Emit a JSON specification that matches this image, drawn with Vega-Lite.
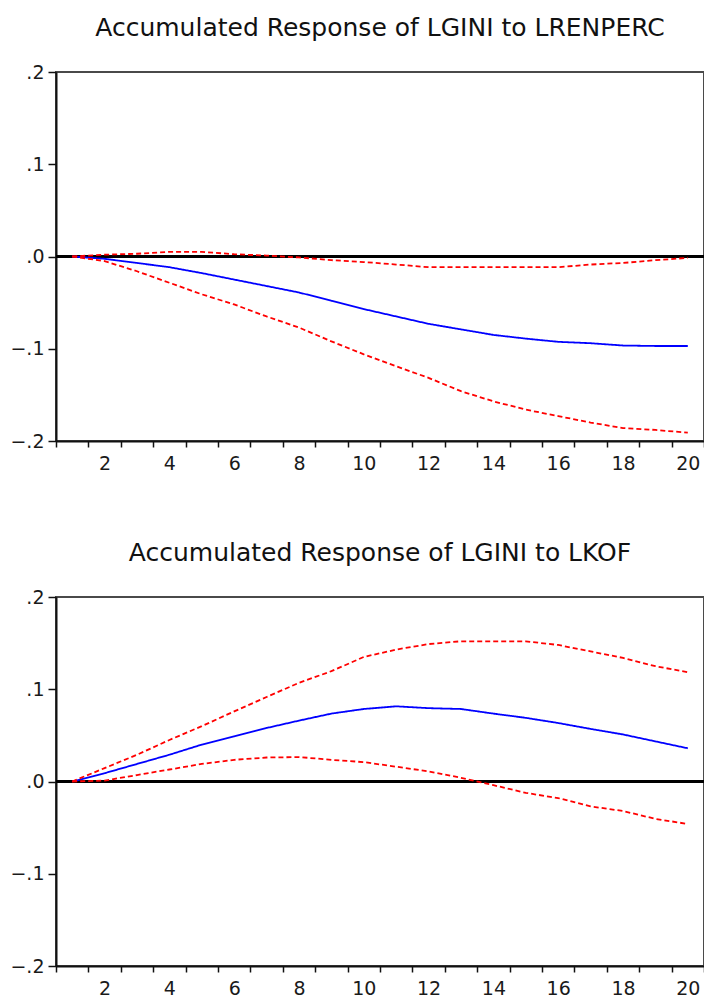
{
  "$schema": "https://vega.github.io/schema/vega-lite/v6.json",
  "background": "white",
  "padding": {"left": 8, "top": 15, "right": 0, "bottom": 0},
  "config": {
    "font": "DejaVu Sans",
    "view": {"stroke": "#4a4a4a", "strokeWidth": 2},
    "axis": {"grid": false, "domainColor": "#111111", "domainWidth": 2, "tickColor": "#111111", "tickWidth": 1.5, "labelFont": "DejaVu Sans", "labelFontSize": 18, "labelColor": "#1a1a1a"},
    "title": {"font": "DejaVu Sans", "fontSize": 25, "fontWeight": "normal", "color": "#111111", "offset": 22},
    "concat": {"spacing": 66}
  },
  "datasets": {
    "top": [
      {"period": 1, "series": "resp", "value": 0},
      {"period": 2, "series": "resp", "value": -0.0025},
      {"period": 3, "series": "resp", "value": -0.007},
      {"period": 4, "series": "resp", "value": -0.0116},
      {"period": 5, "series": "resp", "value": -0.018},
      {"period": 6, "series": "resp", "value": -0.025},
      {"period": 7, "series": "resp", "value": -0.032},
      {"period": 8, "series": "resp", "value": -0.039},
      {"period": 9, "series": "resp", "value": -0.048},
      {"period": 10, "series": "resp", "value": -0.057},
      {"period": 11, "series": "resp", "value": -0.065},
      {"period": 12, "series": "resp", "value": -0.073},
      {"period": 13, "series": "resp", "value": -0.079},
      {"period": 14, "series": "resp", "value": -0.085},
      {"period": 15, "series": "resp", "value": -0.089},
      {"period": 16, "series": "resp", "value": -0.0925},
      {"period": 17, "series": "resp", "value": -0.094},
      {"period": 18, "series": "resp", "value": -0.0965},
      {"period": 19, "series": "resp", "value": -0.097},
      {"period": 20, "series": "resp", "value": -0.097},
      {"period": 1, "series": "lower", "value": 0},
      {"period": 2, "series": "lower", "value": -0.005},
      {"period": 3, "series": "lower", "value": -0.016},
      {"period": 4, "series": "lower", "value": -0.0285},
      {"period": 5, "series": "lower", "value": -0.041},
      {"period": 6, "series": "lower", "value": -0.052},
      {"period": 7, "series": "lower", "value": -0.065},
      {"period": 8, "series": "lower", "value": -0.077},
      {"period": 9, "series": "lower", "value": -0.092},
      {"period": 10, "series": "lower", "value": -0.106},
      {"period": 11, "series": "lower", "value": -0.119},
      {"period": 12, "series": "lower", "value": -0.1316},
      {"period": 13, "series": "lower", "value": -0.146},
      {"period": 14, "series": "lower", "value": -0.157},
      {"period": 15, "series": "lower", "value": -0.166},
      {"period": 16, "series": "lower", "value": -0.173},
      {"period": 17, "series": "lower", "value": -0.18},
      {"period": 18, "series": "lower", "value": -0.186},
      {"period": 19, "series": "lower", "value": -0.188},
      {"period": 20, "series": "lower", "value": -0.191},
      {"period": 1, "series": "upper", "value": 0},
      {"period": 2, "series": "upper", "value": 0.002},
      {"period": 3, "series": "upper", "value": 0.003},
      {"period": 4, "series": "upper", "value": 0.005},
      {"period": 5, "series": "upper", "value": 0.005},
      {"period": 6, "series": "upper", "value": 0.0025},
      {"period": 7, "series": "upper", "value": 0.001},
      {"period": 8, "series": "upper", "value": -0.001},
      {"period": 9, "series": "upper", "value": -0.004},
      {"period": 10, "series": "upper", "value": -0.006},
      {"period": 11, "series": "upper", "value": -0.0087},
      {"period": 12, "series": "upper", "value": -0.0116},
      {"period": 13, "series": "upper", "value": -0.0116},
      {"period": 14, "series": "upper", "value": -0.0116},
      {"period": 15, "series": "upper", "value": -0.0116},
      {"period": 16, "series": "upper", "value": -0.0116},
      {"period": 17, "series": "upper", "value": -0.0087},
      {"period": 18, "series": "upper", "value": -0.007},
      {"period": 19, "series": "upper", "value": -0.004},
      {"period": 20, "series": "upper", "value": -0.0015}
    ],
    "bottom": [
      {"period": 1, "series": "resp", "value": 0},
      {"period": 2, "series": "resp", "value": 0.009},
      {"period": 3, "series": "resp", "value": 0.019},
      {"period": 4, "series": "resp", "value": 0.029},
      {"period": 5, "series": "resp", "value": 0.04},
      {"period": 6, "series": "resp", "value": 0.049},
      {"period": 7, "series": "resp", "value": 0.058},
      {"period": 8, "series": "resp", "value": 0.066},
      {"period": 9, "series": "resp", "value": 0.0736},
      {"period": 10, "series": "resp", "value": 0.0786},
      {"period": 11, "series": "resp", "value": 0.0815},
      {"period": 12, "series": "resp", "value": 0.0795},
      {"period": 13, "series": "resp", "value": 0.0786},
      {"period": 14, "series": "resp", "value": 0.0736},
      {"period": 15, "series": "resp", "value": 0.069},
      {"period": 16, "series": "resp", "value": 0.0634},
      {"period": 17, "series": "resp", "value": 0.057},
      {"period": 18, "series": "resp", "value": 0.051},
      {"period": 19, "series": "resp", "value": 0.0435},
      {"period": 20, "series": "resp", "value": 0.036},
      {"period": 1, "series": "upper", "value": 0},
      {"period": 2, "series": "upper", "value": 0.0145},
      {"period": 3, "series": "upper", "value": 0.029},
      {"period": 4, "series": "upper", "value": 0.045},
      {"period": 5, "series": "upper", "value": 0.06},
      {"period": 6, "series": "upper", "value": 0.076},
      {"period": 7, "series": "upper", "value": 0.0916},
      {"period": 8, "series": "upper", "value": 0.107},
      {"period": 9, "series": "upper", "value": 0.1196},
      {"period": 10, "series": "upper", "value": 0.135},
      {"period": 11, "series": "upper", "value": 0.143},
      {"period": 12, "series": "upper", "value": 0.149},
      {"period": 13, "series": "upper", "value": 0.152},
      {"period": 14, "series": "upper", "value": 0.152},
      {"period": 15, "series": "upper", "value": 0.152},
      {"period": 16, "series": "upper", "value": 0.148},
      {"period": 17, "series": "upper", "value": 0.141},
      {"period": 18, "series": "upper", "value": 0.134},
      {"period": 19, "series": "upper", "value": 0.125},
      {"period": 20, "series": "upper", "value": 0.1185},
      {"period": 1, "series": "lower", "value": 0},
      {"period": 2, "series": "lower", "value": 0.001},
      {"period": 3, "series": "lower", "value": 0.007},
      {"period": 4, "series": "lower", "value": 0.013},
      {"period": 5, "series": "lower", "value": 0.019},
      {"period": 6, "series": "lower", "value": 0.0235},
      {"period": 7, "series": "lower", "value": 0.026},
      {"period": 8, "series": "lower", "value": 0.0265},
      {"period": 9, "series": "lower", "value": 0.0235},
      {"period": 10, "series": "lower", "value": 0.021},
      {"period": 11, "series": "lower", "value": 0.016},
      {"period": 12, "series": "lower", "value": 0.011},
      {"period": 13, "series": "lower", "value": 0.004},
      {"period": 14, "series": "lower", "value": -0.004},
      {"period": 15, "series": "lower", "value": -0.0123},
      {"period": 16, "series": "lower", "value": -0.018},
      {"period": 17, "series": "lower", "value": -0.027},
      {"period": 18, "series": "lower", "value": -0.032},
      {"period": 19, "series": "lower", "value": -0.0405},
      {"period": 20, "series": "lower", "value": -0.046}
    ]
  },
  "vconcat": [
    {
      "title": "Accumulated Response of LGINI to LRENPERC",
      "width": 648,
      "height": 369,
      "data": {"name": "top"},
      "layer": [
        {
          "mark": {"type": "rule", "color": "#000000", "strokeWidth": 2},
          "encoding": {
            "y": {"datum": 0, "type": "quantitative", "scale": {"domain": [-0.2, 0.2], "nice": false},
              "axis": {"title": null, "values": [-0.2, -0.1, 0, 0.1, 0.2], "labelExpr": "replace(format(datum.value,'.1f'),'0.','.')", "tickSize": 8, "labelPadding": 4, "labelFontSize": 19, "minExtent": 47, "maxExtent": 47}}
          }
        },
        {
          "mark": {"type": "line", "strokeWidth": 1.8},
          "encoding": {
            "x": {"field": "period", "type": "quantitative", "scale": {"domain": [0.5, 20.5], "nice": false, "zero": false},
              "axis": {"title": null, "values": [0.5, 1.5, 2.5, 3.5, 4.5, 5.5, 6.5, 7.5, 8.5, 9.5, 10.5, 11.5, 12.5, 13.5, 14.5, 15.5, 16.5, 17.5, 18.5, 19.5, 20.5], "labelExpr": "(datum.value+0.5)%2==0 ? format(datum.value+0.5,'d') : ''", "labelOffset": 16.2, "tickSize": 6, "labelPadding": 7, "labelFontSize": 19, "labelOverlap": false, "labelFlush": false, "labelBound": false}},
            "y": {"field": "value", "type": "quantitative", "scale": {"domain": [-0.2, 0.2], "nice": false},
              "axis": {"title": null, "values": [-0.2, -0.1, 0, 0.1, 0.2], "labelExpr": "replace(format(datum.value,'.1f'),'0.','.')", "tickSize": 8, "labelPadding": 4, "labelFontSize": 19, "minExtent": 47, "maxExtent": 47}},
            "color": {"field": "series", "type": "nominal", "scale": {"domain": ["resp", "lower", "upper"], "range": ["#0000ff", "#ff0000", "#ff0000"]}, "legend": null},
            "strokeDash": {"field": "series", "type": "nominal", "scale": {"domain": ["resp", "lower", "upper"], "range": [[1, 0], [5, 3], [5, 3]]}, "legend": null}
          }
        }
      ]
    },
    {
      "title": "Accumulated Response of LGINI to LKOF",
      "width": 648,
      "height": 369,
      "data": {"name": "bottom"},
      "layer": [
        {
          "mark": {"type": "rule", "color": "#000000", "strokeWidth": 2},
          "encoding": {
            "y": {"datum": 0, "type": "quantitative", "scale": {"domain": [-0.2, 0.2], "nice": false},
              "axis": {"title": null, "values": [-0.2, -0.1, 0, 0.1, 0.2], "labelExpr": "replace(format(datum.value,'.1f'),'0.','.')", "tickSize": 8, "labelPadding": 4, "labelFontSize": 19, "minExtent": 47, "maxExtent": 47}}
          }
        },
        {
          "mark": {"type": "line", "strokeWidth": 1.8},
          "encoding": {
            "x": {"field": "period", "type": "quantitative", "scale": {"domain": [0.5, 20.5], "nice": false, "zero": false},
              "axis": {"title": null, "values": [0.5, 1.5, 2.5, 3.5, 4.5, 5.5, 6.5, 7.5, 8.5, 9.5, 10.5, 11.5, 12.5, 13.5, 14.5, 15.5, 16.5, 17.5, 18.5, 19.5, 20.5], "labelExpr": "(datum.value+0.5)%2==0 ? format(datum.value+0.5,'d') : ''", "labelOffset": 16.2, "tickSize": 6, "labelPadding": 7, "labelFontSize": 19, "labelOverlap": false, "labelFlush": false, "labelBound": false}},
            "y": {"field": "value", "type": "quantitative", "scale": {"domain": [-0.2, 0.2], "nice": false},
              "axis": {"title": null, "values": [-0.2, -0.1, 0, 0.1, 0.2], "labelExpr": "replace(format(datum.value,'.1f'),'0.','.')", "tickSize": 8, "labelPadding": 4, "labelFontSize": 19, "minExtent": 47, "maxExtent": 47}},
            "color": {"field": "series", "type": "nominal", "scale": {"domain": ["resp", "lower", "upper"], "range": ["#0000ff", "#ff0000", "#ff0000"]}, "legend": null},
            "strokeDash": {"field": "series", "type": "nominal", "scale": {"domain": ["resp", "lower", "upper"], "range": [[1, 0], [5, 3], [5, 3]]}, "legend": null}
          }
        }
      ]
    }
  ]
}
